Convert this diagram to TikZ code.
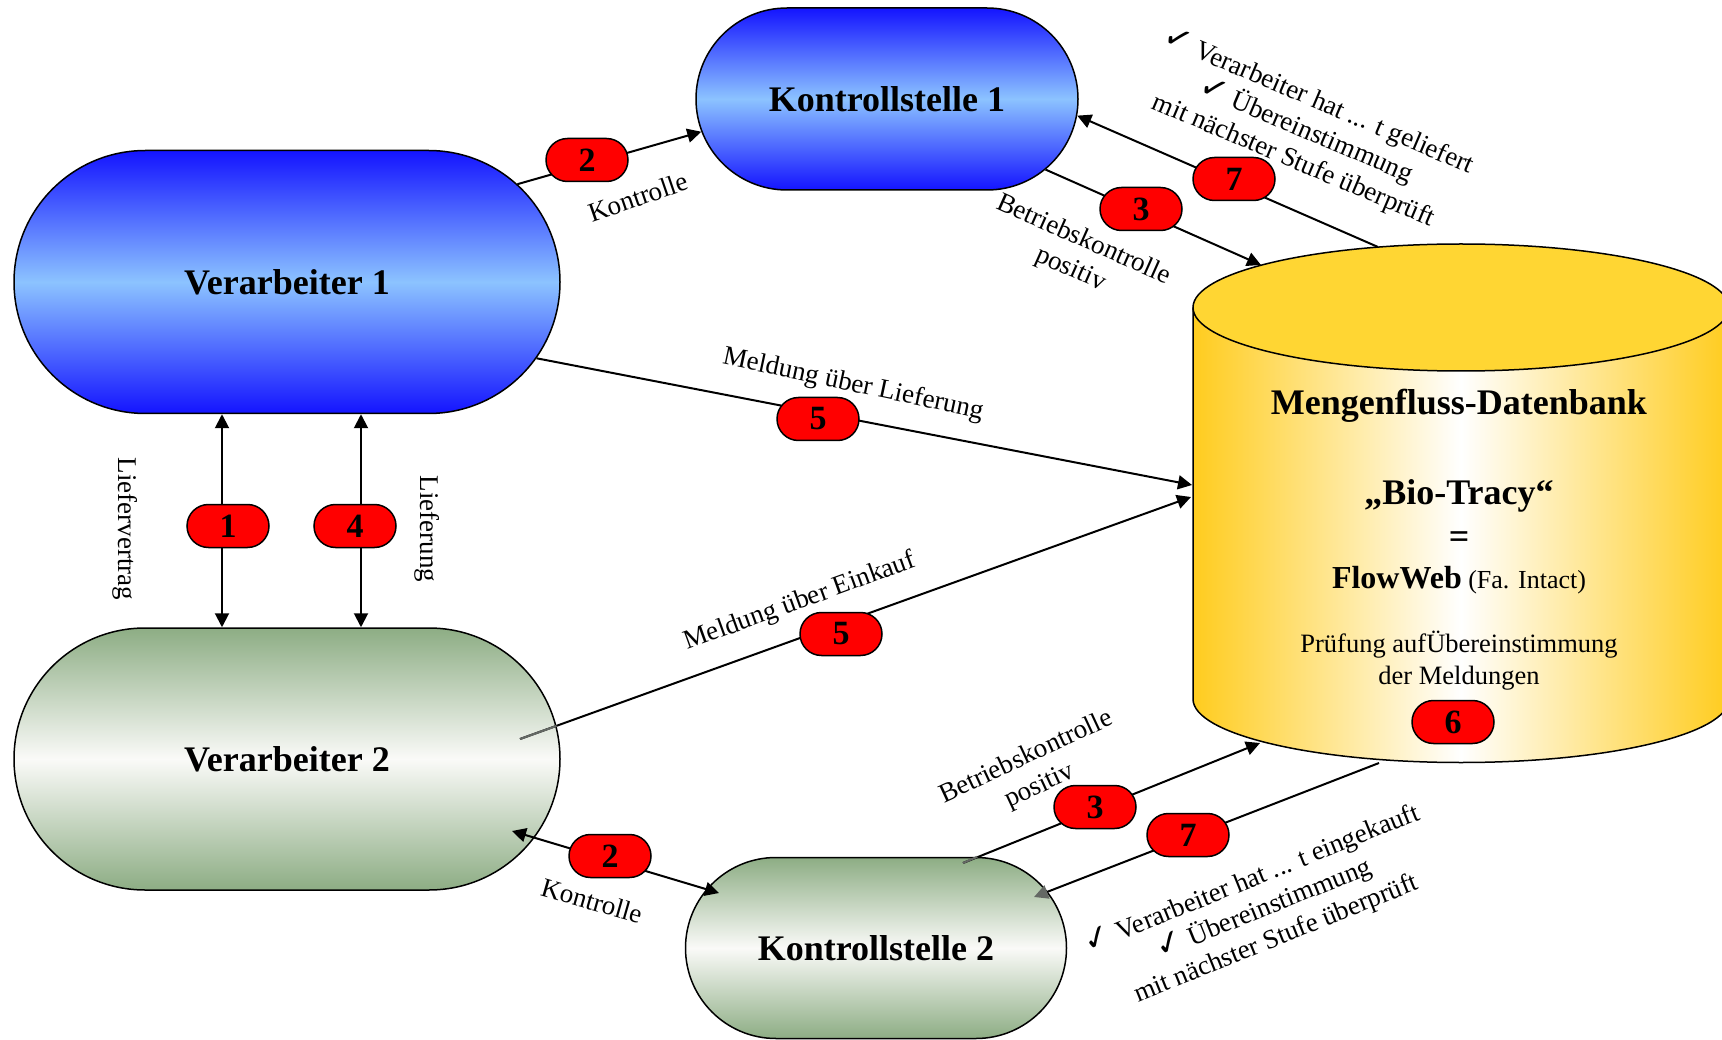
\documentclass[tikz,border=0pt]{standalone}
\usepackage{fontspec}
\setmainfont{Liberation Serif}
\newfontfamily\chkfont{DejaVu Sans}
\usetikzlibrary{shapes.misc,arrows.meta}
\definecolor{bluedark}{RGB}{20,20,255}
\definecolor{bluelight}{RGB}{140,195,255}
\definecolor{sage}{RGB}{141,173,132}
\definecolor{sagelight}{RGB}{250,250,248}
\definecolor{cylside}{RGB}{255,204,30}
\definecolor{cyltop}{RGB}{255,214,51}
\definecolor{innergray}{RGB}{100,104,100}
\newcommand{\chk}{{\chkfont\fontsize{33}{33}\selectfont ✓}}
\begin{document}
\begin{tikzpicture}[x=1pt,y=-1pt,
  proc/.style={rounded rectangle, draw=black, line width=1.5pt, inner sep=0pt, font=\fontsize{36}{40}\selectfont\bfseries},
  blueproc/.style={proc, top color=bluedark, bottom color=bluedark, middle color=bluelight},
  greenproc/.style={proc, top color=sage, bottom color=sage, middle color=sagelight},
  badge/.style={rounded rectangle, draw=black, line width=1.5pt, fill=red, minimum width=82pt, minimum height=43pt, inner sep=0pt, font=\fontsize{34}{34}\selectfont\bfseries},
  lbl/.style={inner sep=0pt, align=center, font=\fontsize{27}{32}\selectfont},
  conn/.style={line width=2pt, -{Triangle[length=14pt,width=14pt]}},
  dconn/.style={line width=2pt, {Triangle[length=14pt,width=14pt]}-{Triangle[length=14pt,width=14pt]}},
  innerseg/.style={line width=2pt, innergray},
  dbtext/.style={inner sep=0pt, align=center}
]
\useasboundingbox (0,0) rectangle (1722,1040);

% ---- cylinder (database)
\shade[left color=cylside, right color=cylside, middle color=white]
  (1193,307.5) -- (1193,699) arc[start angle=180,end angle=360,x radius=268pt,y radius=63.5pt] -- (1729,307.5) -- cycle;
\draw[line width=1.5pt] (1193,307.5) -- (1193,699) arc[start angle=180,end angle=360,x radius=268pt,y radius=63.5pt] -- (1729,307.5);
\draw[line width=1.5pt, fill=cyltop] (1461,307.5) ellipse [x radius=268pt, y radius=63.5pt];

\node[dbtext, font=\fontsize{36}{40}\selectfont\bfseries] (dbtitle) at (1459,406) {Mengenfluss-Datenbank};
\node[dbtext, font=\fontsize{36}{40}\selectfont\bfseries] (dbname) at (1459,496) {„Bio-Tracy“};
\node[dbtext, font=\fontsize{36}{40}\selectfont\bfseries] (dbeq) at (1459,540) {=};
\node[dbtext] (dbflow) at (1459,580) {{\fontsize{32}{36}\selectfont\bfseries FlowWeb}{\fontsize{26}{30}\selectfont\ (Fa. Intact)}};
\node[dbtext, font=\fontsize{26.5}{32}\selectfont] (dbcheck) at (1459,661) {Prüfung aufÜbereinstimmung\\der Meldungen};

% ---- process shapes
\node[blueproc, minimum width=546pt, minimum height=263pt] (v1) at (287,282) {Verarbeiter 1};
\node[blueproc, minimum width=382pt, minimum height=182pt] (k1) at (887,99) {Kontrollstelle 1};
\node[greenproc, minimum width=546pt, minimum height=262pt] (v2) at (287,759) {Verarbeiter 2};
\node[greenproc, minimum width=381pt, minimum height=181pt] (k2) at (876,948) {Kontrollstelle 2};

% ---- connector end points
\coordinate (l1) at (222,0);
\coordinate (l4) at (361,0);
\coordinate (db3a) at (1261,265);
\coordinate (db7a) at (1378,247);
\coordinate (db5a) at (1192,485);
\coordinate (db5b) at (1191,497);
\coordinate (v2in) at (520,739);
\coordinate (v2k) at (512,831);
\coordinate (k2k) at (719,893);
\coordinate (k2in) at (963,863);
\coordinate (db3b) at (1260,743);
\coordinate (db7b) at (1379,763);
\coordinate (k2t) at (1034,897);

% ---- connectors
\draw[dconn] (v1.south -| l1) -- (v2.north -| l1);
\draw[dconn] (v1.south -| l4) -- (v2.north -| l4);
\draw[conn] (v1.23) -- (k1.190);
\draw[conn] (k1.-24) -- (db3a);
\draw[conn] (db7a) -- (k1.-5);
\draw[conn] (v1.-17) -- (db5a);
\draw[conn] (v2in) -- (db5b);
\draw[innerseg] (v2in) -- (v2.7);
\draw[dconn] (v2k) -- (k2k);
\draw[conn] (k2in) -- (db3b);
\draw[innerseg] (k2in) -- (k2.42);
\draw[line width=2pt, -{Triangle[length=14pt,width=14pt,color=innergray]}] (db7b) -- (k2t);

% ---- badges
\node[badge] (b2a) at (587,160) {2};
\node[badge] (b3a) at (1141,209) {3};
\node[badge] (b7a) at (1234,179) {7};
\node[badge] (b5a) at (818,419) {5};
\node[badge] (b5b) at (841,634) {5};
\node[badge] (b1) at (228,526) {1};
\node[badge] (b4) at (355,526) {4};
\node[badge] (b2b) at (610,856) {2};
\node[badge] (b3b) at (1095,807) {3};
\node[badge] (b7b) at (1188,835) {7};
\node[badge] (b6) at (1453,722) {6};

% ---- labels
\node[lbl, rotate=19] (tk1) at (638,197) {Kontrolle};
\node[lbl, rotate=-24] (tb1) at (1077,255) {Betriebskontrolle\\positiv};
\node[lbl, rotate=-23] (t71) at (1306,131) {\chk\ Verarbeiter hat ... t geliefert\\\chk\ Übereinstimmung\\mit nächster Stufe überprüft};
\node[lbl, rotate=-12] (t5a) at (853,385) {Meldung über Lieferung};
\node[lbl, rotate=20] (t5b) at (800,602) {Meldung über Einkauf};
\node[lbl, rotate=-90] (tlv) at (125,529) {Liefervertrag};
\node[lbl, rotate=-90] (tlf) at (427,529) {Lieferung};
\node[lbl, rotate=-16] (tk2) at (592,901) {Kontrolle};
\node[lbl, rotate=25] (tb2) at (1033,772) {Betriebskontrolle\\positiv};
\node[lbl, rotate=22] (t72) at (1264,909) {\chk\ Verarbeiter hat ... t eingekauft\\\chk\ Übereinstimmung\\mit nächster Stufe überprüft};
\end{tikzpicture}
\end{document}
